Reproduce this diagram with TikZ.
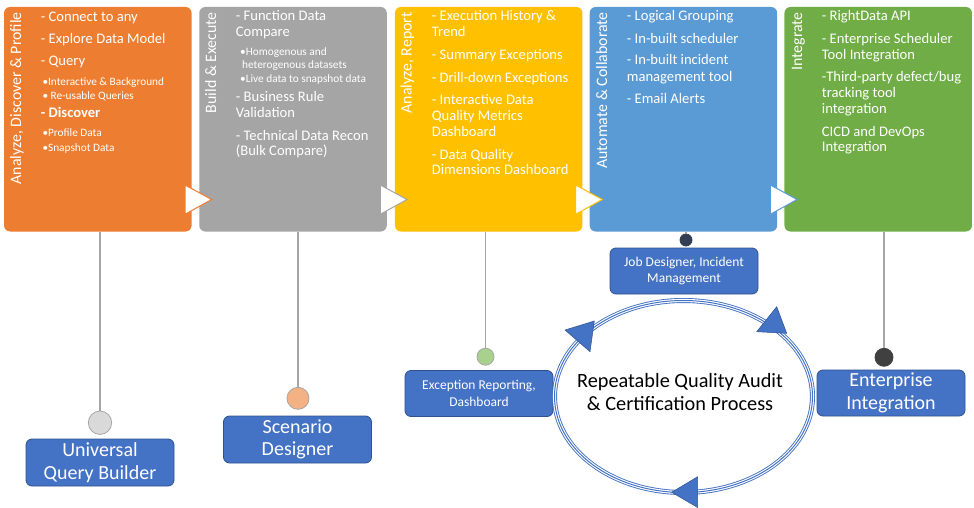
\documentclass[tikz,border=0pt]{standalone}
\usepackage{fontspec}
\setmainfont{Carlito}
\definecolor{porange}{HTML}{ED7D31}
\definecolor{pgray}{HTML}{A5A5A5}
\definecolor{pyellow}{HTML}{FFC000}
\definecolor{pblue}{HTML}{5B9BD5}
\definecolor{pgreen}{HTML}{70AD47}
\definecolor{boxblue}{HTML}{4472C4}
\definecolor{boxedge}{HTML}{2F528F}
\definecolor{linegray}{HTML}{A6A6A6}
\definecolor{dotgray}{HTML}{D9D9D9}
\definecolor{dotorange}{HTML}{F4B183}
\definecolor{dotgreen}{HTML}{A9D18E}
\definecolor{dotnavy}{HTML}{323F52}
\definecolor{dotdark}{HTML}{404040}
\begin{document}
\begin{tikzpicture}[x=1pt,y=-1pt,
  panel/.style={rounded corners=6pt, minimum width=187.5pt, minimum height=224.5pt, inner sep=0pt},
  notch/.style={fill=white, line width=1pt, line join=miter},
  vlabel/.style={rotate=90, anchor=base east, inner sep=0pt, text=white, font=\fontsize{15.9}{18}\selectfont},
  item/.style={anchor=base west, inner sep=0pt, text=white, font=\fontsize{14.6}{16}\selectfont},
  sitem/.style={anchor=base west, inner sep=0pt, text=white, font=\fontsize{11.3}{12.3}\selectfont},
  bigbox/.style={draw=boxedge, line width=0.8pt, fill=boxblue, rounded corners=6pt, minimum width=148pt, minimum height=47pt, inner sep=0pt, text=white, align=center, font=\fontsize{20}{22.5}\selectfont},
  smallbox/.style={bigbox, minimum height=46pt, font=\fontsize{13.5}{16.7}\selectfont},
  dot/.style={circle, draw=linegray, line width=0.8pt, inner sep=0pt},
  conn/.style={draw=linegray, line width=1.2pt},
  cyc/.style={fill=boxblue, draw=boxedge, line width=0.5pt, line join=miter},
]
\useasboundingbox[fill=white] (0,0) rectangle (974,508);

% panels
\node[panel, fill=porange] (p1) at (97.8,119.25) {};
\node[panel, fill=pgray]   (p2) at (293,119.25) {};
\node[panel, fill=pyellow] (p3) at (488.7,119.25) {};
\node[panel, fill=pblue]   (p4) at (683.4,119.25) {};
\node[panel, fill=pgreen]  (p5) at (878.2,119.25) {};

% notches
\draw[notch, draw=porange] (185,185) -- (211.7,199.5) -- (185,214.3) -- cycle;
\draw[notch, draw=pgray]   (380.3,185) -- (407,199.5) -- (380.3,214.3) -- cycle;
\draw[notch, draw=pyellow] (575.6,185) -- (602.3,199.5) -- (575.6,214.3) -- cycle;
\draw[notch, draw=pblue]   (770.4,185) -- (797.1,199.5) -- (770.4,214.3) -- cycle;

% vertical labels
\node[vlabel] (v1) at (21,12) {Analyze, Discover \& Profile};
\node[vlabel] (v2) at (216,12) {Build \& Execute};
\node[vlabel] (v3) at (411.7,12) {Analyze, Report};
\node[vlabel] (v4) at (607,12) {Automate \& Collaborate};
\node[vlabel] (v5) at (802,12) {Integrate};

% panel 1 text
\foreach \y/\t [count=\i] in {21.3/{- Connect to any}, 44/{- Explore Data Model}, 65.7/{- Query}, 117.3/{\bfseries - Discover}}
  \node[item] (a\i) at (40.7,\y) {\t};
\foreach \y/\t [count=\i] in {85.3/{•Interactive \& Background}, 100/{• Re-usable Queries}, 136.7/{•Profile Data}, 151/{•Snapshot Data}}
  \node[sitem] (as\i) at (42.3,\y) {\t};

% panel 2 text
\foreach \y/\t [count=\i] in {20.7/{- Function Data}, 36.7/{Compare}, 101.7/{- Business Rule}, 117.3/{Validation}, 140/{- Technical Data Recon}, 155.7/{(Bulk Compare)}}
  \node[item] (b\i) at (235.7,\y) {\t};
\foreach \y/\t [count=\i] in {56/{•Homogenous and}, 68.3/{\,heterogenous datasets}, 82.7/{•Live data to snapshot data}}
  \node[sitem] (bs\i) at (240,\y) {\t};

% panel 3 text
\foreach \y/\t [count=\i] in {20.7/{- Execution History \&}, 36.7/{Trend}, 59.3/{- Summary Exceptions}, 82.3/{- Drill-down Exceptions}, 104.7/{- Interactive Data}, 120.7/{Quality Metrics}, 136.7/{Dashboard}, 159/{- Data Quality}, 174.7/{Dimensions Dashboard}}
  \node[item] (c\i) at (431.7,\y) {\t};

% panel 4 text
\foreach \y/\t [count=\i] in {20.7/{- Logical Grouping}, 43.3/{- In-built scheduler}, 65/{- In-built incident}, 81.7/{management tool}, 104/{- Email Alerts}}
  \node[item] (d\i) at (626.7,\y) {\t};

% panel 5 text
\foreach \y/\t [count=\i] in {20.7/{- RightData API}, 43.3/{- Enterprise Scheduler}, 59.3/{Tool Integration}, 81.7/{-Third-party defect/bug}, 97.3/{tracking tool}, 113.3/{integration}, 136/{CICD and DevOps}, 151.7/{Integration}}
  \node[item] (e\i) at (821.7,\y) {\t};

% dots
\node[dot, fill=dotgray, minimum size=23.4pt] (k1) at (100,422.7) {};
\node[dot, fill=dotorange, minimum size=22pt] (k2) at (298,398.3) {};
\node[dot, fill=dotgreen, minimum size=17pt] (k3) at (485.5,356.7) {};
\node[dot, fill=dotnavy, draw=dotnavy, minimum size=12pt] (k4) at (686,240) {};
\node[dot, fill=dotdark, draw=dotdark, minimum size=18pt] (k5) at (884,357.3) {};

% connectors
\draw[conn] (k1) -- (k1 |- p1.south);
\draw[conn] (k2) -- (k2 |- p2.south);
\draw[conn] (k3) -- (k3 |- p3.south);
\draw[conn] (k4) -- (k4 |- p4.south);
\draw[conn] (k5) -- (k5 |- p5.south);

% boxes
\node[bigbox] (uqb) at (100,462.5) {Universal\\Query Builder};
\node[bigbox] (sd) at (297.5,439.5) {Scenario\\Designer};
\node[smallbox] (er) at (479,393.5) {Exception Reporting,\\Dashboard};
\node[smallbox] (jd) at (684,271) {Job Designer, Incident\\Management};
\node[bigbox, minimum height=46pt] (ei) at (891,393) {Enterprise\\Integration};

% cycle
\draw[boxblue, line width=5pt] (683.5,396.5) ellipse [x radius=129, y radius=96];
\draw[white, line width=3.2pt] (683.5,396.5) ellipse [x radius=129, y radius=96];
\draw[boxblue, line width=1pt] (683.5,396.5) ellipse [x radius=129, y radius=96];
\draw[cyc] (565,330) -- (594.3,321) -- (590,351.7) -- cycle;
\draw[cyc] (756.7,331.7) -- (776.7,306.7) -- (786.7,333.3) -- cycle;
\draw[cyc] (671.7,492.3) -- (697.7,476.7) -- (697.7,507.5) -- cycle;
\node[align=center, inner sep=0pt, font=\fontsize{20.3}{23.3}\selectfont] (rq) at (680,392) {Repeatable Quality Audit\\\& Certification Process};
\end{tikzpicture}
\end{document}
